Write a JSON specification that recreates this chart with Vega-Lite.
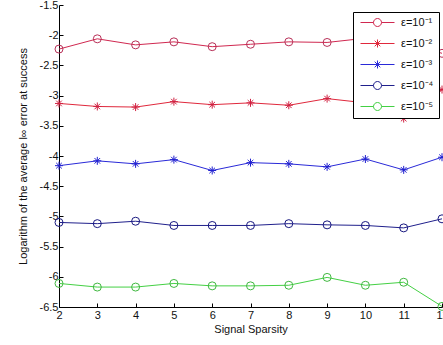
{
  "$schema": "https://vega.github.io/schema/vega-lite/v6.json",
  "width": 383,
  "height": 302,
  "autosize": {"type": "none"},
  "padding": {"left": 59, "top": 5, "right": 1, "bottom": 38},
  "background": "white",
  "config": {
    "view": {"stroke": null},
    "font": "Liberation Sans",
    "axis": {
      "domainColor": "#000000",
      "tickColor": "#000000",
      "labelColor": "#111111",
      "titleColor": "#111111",
      "labelFont": "Liberation Sans",
      "titleFont": "Liberation Sans",
      "labelFontSize": 11,
      "titleFontSize": 11,
      "titleFontWeight": "normal",
      "grid": false,
      "tickSize": -4,
      "domainWidth": 1,
      "tickWidth": 1
    }
  },
  "data": {
    "values": [
      {"x": 2, "y": -2.23, "s": "ε=10⁻¹"},
      {"x": 3, "y": -2.06, "s": "ε=10⁻¹"},
      {"x": 4, "y": -2.16, "s": "ε=10⁻¹"},
      {"x": 5, "y": -2.11, "s": "ε=10⁻¹"},
      {"x": 6, "y": -2.19, "s": "ε=10⁻¹"},
      {"x": 7, "y": -2.15, "s": "ε=10⁻¹"},
      {"x": 8, "y": -2.11, "s": "ε=10⁻¹"},
      {"x": 9, "y": -2.12, "s": "ε=10⁻¹"},
      {"x": 10, "y": -2.05, "s": "ε=10⁻¹"},
      {"x": 11, "y": -2.1, "s": "ε=10⁻¹"},
      {"x": 12, "y": -2.3, "s": "ε=10⁻¹"},
      {"x": 2, "y": -3.13, "s": "ε=10⁻²"},
      {"x": 3, "y": -3.18, "s": "ε=10⁻²"},
      {"x": 4, "y": -3.19, "s": "ε=10⁻²"},
      {"x": 5, "y": -3.1, "s": "ε=10⁻²"},
      {"x": 6, "y": -3.15, "s": "ε=10⁻²"},
      {"x": 7, "y": -3.12, "s": "ε=10⁻²"},
      {"x": 8, "y": -3.16, "s": "ε=10⁻²"},
      {"x": 9, "y": -3.05, "s": "ε=10⁻²"},
      {"x": 10, "y": -3.12, "s": "ε=10⁻²"},
      {"x": 11, "y": -3.38, "s": "ε=10⁻²"},
      {"x": 12, "y": -2.9, "s": "ε=10⁻²"},
      {"x": 2, "y": -4.16, "s": "ε=10⁻³"},
      {"x": 3, "y": -4.08, "s": "ε=10⁻³"},
      {"x": 4, "y": -4.13, "s": "ε=10⁻³"},
      {"x": 5, "y": -4.06, "s": "ε=10⁻³"},
      {"x": 6, "y": -4.24, "s": "ε=10⁻³"},
      {"x": 7, "y": -4.11, "s": "ε=10⁻³"},
      {"x": 8, "y": -4.13, "s": "ε=10⁻³"},
      {"x": 9, "y": -4.18, "s": "ε=10⁻³"},
      {"x": 10, "y": -4.05, "s": "ε=10⁻³"},
      {"x": 11, "y": -4.23, "s": "ε=10⁻³"},
      {"x": 12, "y": -4.02, "s": "ε=10⁻³"},
      {"x": 2, "y": -5.1, "s": "ε=10⁻⁴"},
      {"x": 3, "y": -5.12, "s": "ε=10⁻⁴"},
      {"x": 4, "y": -5.08, "s": "ε=10⁻⁴"},
      {"x": 5, "y": -5.15, "s": "ε=10⁻⁴"},
      {"x": 6, "y": -5.15, "s": "ε=10⁻⁴"},
      {"x": 7, "y": -5.15, "s": "ε=10⁻⁴"},
      {"x": 8, "y": -5.12, "s": "ε=10⁻⁴"},
      {"x": 9, "y": -5.14, "s": "ε=10⁻⁴"},
      {"x": 10, "y": -5.15, "s": "ε=10⁻⁴"},
      {"x": 11, "y": -5.19, "s": "ε=10⁻⁴"},
      {"x": 12, "y": -5.04, "s": "ε=10⁻⁴"},
      {"x": 2, "y": -6.11, "s": "ε=10⁻⁵"},
      {"x": 3, "y": -6.17, "s": "ε=10⁻⁵"},
      {"x": 4, "y": -6.17, "s": "ε=10⁻⁵"},
      {"x": 5, "y": -6.11, "s": "ε=10⁻⁵"},
      {"x": 6, "y": -6.15, "s": "ε=10⁻⁵"},
      {"x": 7, "y": -6.15, "s": "ε=10⁻⁵"},
      {"x": 8, "y": -6.14, "s": "ε=10⁻⁵"},
      {"x": 9, "y": -6.01, "s": "ε=10⁻⁵"},
      {"x": 10, "y": -6.14, "s": "ε=10⁻⁵"},
      {"x": 11, "y": -6.09, "s": "ε=10⁻⁵"},
      {"x": 12, "y": -6.49, "s": "ε=10⁻⁵"}
    ]
  },
  "encoding": {
    "x": {
      "field": "x",
      "type": "quantitative",
      "scale": {"domain": [2, 12], "nice": false, "zero": false},
      "axis": {
        "title": "Signal Sparsity",
        "values": [2, 3, 4, 5, 6, 7, 8, 9, 10, 11, 12],
        "labelPadding": 6,
        "titlePadding": 3,
        "labelFlush": false
      }
    },
    "y": {
      "field": "y",
      "type": "quantitative",
      "scale": {"domain": [-6.5, -1.5], "nice": false, "zero": false},
      "axis": {
        "title": "Logarithm of the average l∞ error at success",
        "values": [-6.5, -6, -5.5, -5, -4.5, -4, -3.5, -3, -2.5, -2, -1.5],
        "format": "~g",
        "labelExpr": "replace(datum.label, '\u2212', '-')",
        "labelPadding": 5,
        "titlePadding": 11,
        "labelFlush": false
      }
    }
  },
  "resolve": {"scale": {"color": "independent", "shape": "independent"}},
  "layer": [
    {
      "mark": {"type": "line", "strokeWidth": 1},
      "encoding": {
        "color": {
          "field": "s",
          "type": "nominal",
          "scale": {
            "domain": ["ε=10⁻¹", "ε=10⁻²", "ε=10⁻³", "ε=10⁻⁴", "ε=10⁻⁵"],
            "range": ["#d02850", "#e0283c", "#2a2ad8", "#20208c", "#44d044"]
          },
          "legend": null
        }
      }
    },
    {
      "mark": {"type": "point", "filled": false, "size": 64, "strokeWidth": 1, "opacity": 1},
      "encoding": {
        "color": {
          "field": "s",
          "type": "nominal",
          "scale": {
            "domain": ["ε=10⁻¹", "ε=10⁻²", "ε=10⁻³", "ε=10⁻⁴", "ε=10⁻⁵"],
            "range": ["#b83058", "#d02040", "#2020d0", "#181880", "#40b840"]
          },
          "legend": null
        },
        "shape": {
          "field": "s",
          "type": "nominal",
          "scale": {
            "domain": ["ε=10⁻¹", "ε=10⁻²", "ε=10⁻³", "ε=10⁻⁴", "ε=10⁻⁵"],
            "range": ["circle", "M-1,0L1,0M0,-1L0,1M-0.7,-0.7L0.7,0.7M-0.7,0.7L0.7,-0.7", "M-1,0L1,0M0,-1L0,1M-0.7,-0.7L0.7,0.7M-0.7,0.7L0.7,-0.7", "circle", "circle"]
          },
          "legend": null
        }
      }
    },
    {
      "transform": [{"filter": "datum.x > 100"}],
      "mark": {"type": "point", "filled": false, "size": 64, "strokeWidth": 1, "opacity": 1},
      "encoding": {
        "color": {
          "field": "s",
          "type": "nominal",
          "scale": {
            "domain": ["ε=10⁻¹", "ε=10⁻²", "ε=10⁻³", "ε=10⁻⁴", "ε=10⁻⁵"],
            "range": ["#d02850", "#e0283c", "#2a2ad8", "#20208c", "#44d044"]
          },
          "legend": {
            "title": null,
            "orient": "none",
            "legendX": 294,
            "legendY": 7,
            "strokeColor": "#000000",
            "fillColor": "#ffffff",
            "padding": 5,
            "rowPadding": 8,
            "symbolSize": 64,
            "symbolOffset": 14,
            "labelOffset": 18,
            "symbolStrokeWidth": 1,
            "labelFont": "Liberation Sans",
            "labelFontSize": 11,
            "labelColor": "#111111"
          }
        },
        "shape": {
          "field": "s",
          "type": "nominal",
          "scale": {
            "domain": ["ε=10⁻¹", "ε=10⁻²", "ε=10⁻³", "ε=10⁻⁴", "ε=10⁻⁵"],
            "range": [
              "M-4.25,0L-1,0M1,0L4.25,0M-1,0A1,1,0,1,1,1,0A1,1,0,1,1,-1,0",
              "M-4.25,0L4.25,0M0,-1L0,1M-0.7,-0.7L0.7,0.7M-0.7,0.7L0.7,-0.7",
              "M-4.25,0L4.25,0M0,-1L0,1M-0.7,-0.7L0.7,0.7M-0.7,0.7L0.7,-0.7",
              "M-4.25,0L-1,0M1,0L4.25,0M-1,0A1,1,0,1,1,1,0A1,1,0,1,1,-1,0",
              "M-4.25,0L-1,0M1,0L4.25,0M-1,0A1,1,0,1,1,1,0A1,1,0,1,1,-1,0"
            ]
          },
          "legend": {
            "title": null,
            "orient": "none",
            "legendX": 294,
            "legendY": 7,
            "strokeColor": "#000000",
            "fillColor": "#ffffff",
            "padding": 5,
            "rowPadding": 8,
            "symbolSize": 64,
            "symbolOffset": 14,
            "labelOffset": 18,
            "symbolStrokeWidth": 1,
            "labelFont": "Liberation Sans",
            "labelFontSize": 11,
            "labelColor": "#111111"
          }
        }
      }
    }
  ]
}
